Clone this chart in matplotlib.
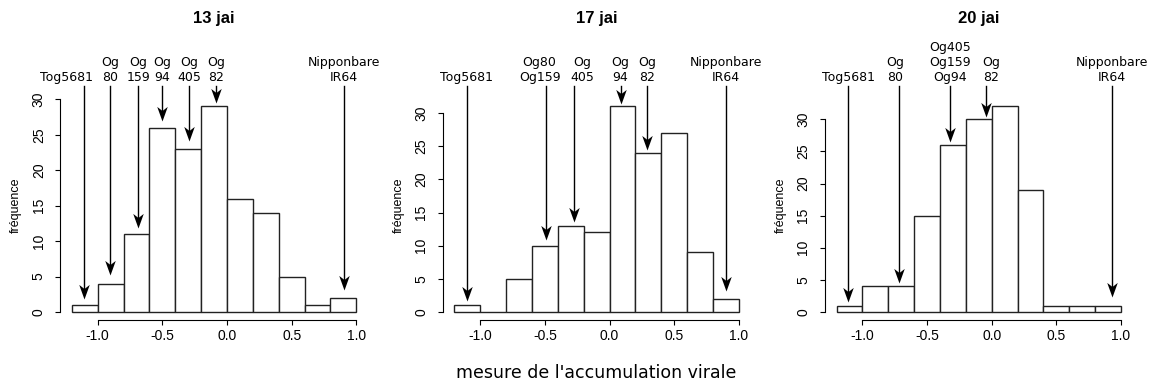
import matplotlib.pyplot as plt
import matplotlib.transforms as mtransforms
from matplotlib.path import Path

# histogram breaks (same for the three dates)
breaks = [-1.2, -1.0, -0.8, -0.6, -0.4, -0.2, 0.0, 0.2, 0.4, 0.6, 0.8, 1.0]
titles = ["13 jai", "17 jai", "20 jai"]

counts_13 = [1, 4, 11, 26, 23, 29, 16, 14, 5, 1, 2]
counts_17 = [1, 0, 5, 10, 13, 12, 31, 24, 27, 9, 2]
counts_20 = [1, 4, 4, 15, 26, 30, 32, 19, 1, 1, 1]

# genotypes pointed at by arrows: label, position on x, arrow tip height
lab_13 = ["Tog5681", "Og\n80", "Og\n159", "Og\n94", "Og\n405", "Og\n82", "Nipponbare\nIR64"]
pos_13 = [-1.106, -0.902, -0.688, -0.5, -0.291, -0.082, 0.903]
tip_13 = [1.8, 5.2, 11.8, 27.0, 24.1, 29.5, 3.1]

lab_17 = ["Tog5681", "Og80\nOg159", "Og\n405", "Og\n94", "Og\n82", "Nipponbare\nIR64"]
pos_17 = [-1.103, -0.494, -0.274, 0.085, 0.292, 0.897]
tip_17 = [1.7, 10.85, 13.6, 31.3, 24.4, 3.2]

lab_20 = ["Tog5681", "Og\n80", "Og405\nOg159\nOg94", "Og\n82", "Nipponbare\nIR64"]
pos_20 = [-1.109, -0.72, -0.325, -0.043, 0.927]
tip_20 = [1.6, 4.5, 26.5, 30.4, 2.4]

# small horizontal shifts of the labels so they don't collide
nudge_13 = [-0.139, 0, 0, 0, 0, 0, 0]
nudge_17 = [0, -0.047, 0.06, 0, 0, 0]
nudge_20 = [0, -0.03, 0, 0.036, 0]

panels = [
    (counts_13, lab_13, pos_13, tip_13, nudge_13),
    (counts_17, lab_17, pos_17, tip_17, nudge_17),
    (counts_20, lab_20, pos_20, tip_20, nudge_20),
]

plt.rcParams['font.family'] = ['Liberation Sans', 'DejaVu Sans']
plt.rcParams['axes.unicode_minus'] = False

# arrow head (tip at origin, pointing down, notched back)
head = Path([(0, 0), (-0.36, 1), (0, 0.72), (0.36, 1), (0, 0)],
            [Path.MOVETO, Path.LINETO, Path.LINETO, Path.LINETO, Path.CLOSEPOLY])

fig = plt.figure(figsize=(11.52, 3.85), dpi=100)
lefts = [0.0525, 0.3846, 0.7163]

for i, (counts, labs, pos, tips, nudge) in enumerate(panels):
    ax = fig.add_axes([lefts[i], 0.1683, 0.2667, 0.5766])
    ymax = max(counts)

    widths = [breaks[k + 1] - breaks[k] for k in range(len(counts))]
    ax.bar(breaks[:-1], counts, width=widths, align='edge', color='white',
           edgecolor='#222222', linewidth=1.0)

    ax.set_xlim(-1.288, 1.088)
    ax.set_ylim(-0.04 * ymax, 1.04 * ymax)

    for s in ['top', 'right']:
        ax.spines[s].set_visible(False)
    ax.spines['left'].set_bounds(0, 30)
    ax.spines['bottom'].set_bounds(-1, 1)
    ax.set_xticks([-1.0, -0.5, 0.0, 0.5, 1.0])
    ax.set_yticks([0, 5, 10, 15, 20, 25, 30])
    ax.tick_params(length=3.6, width=0.8, labelsize=10)
    ax.tick_params(axis='x', pad=3)
    ax.tick_params(axis='y', pad=7)
    for t in ax.get_yticklabels():
        t.set_rotation(90)
        t.set_va('center')

    ax.set_ylabel("fréquence", fontsize=9)
    ax.yaxis.set_label_coords(-0.125, 0.52)

    ax.text(0.5, 1.337, titles[i], transform=ax.transAxes, ha='center',
            va='baseline', fontsize=12, fontweight='bold')

    # arrows and genotype labels
    trans = mtransforms.blended_transform_factory(ax.transData, ax.transAxes)
    top = ymax * 1.1
    for lab, x, tip, dx in zip(labs, pos, tips, nudge):
        ax.plot([x, x], [tip + 1, top], color='black', lw=1.0, clip_on=False)
        ax.plot([x], [tip], marker=head, markersize=21, color='black',
                markeredgewidth=0, clip_on=False)
        ax.text(x + dx, 1.0775, lab, transform=trans, ha='center',
                va='baseline', multialignment='center', fontsize=9,
                family='DejaVu Sans', linespacing=1.2)

fig.text(596 / 1152, 1 - 372.7 / 385, "mesure de l'accumulation virale",
         ha='center', va='center', fontsize=12.5, family='DejaVu Sans')

fig.savefig("out.png", dpi=100)
plt.close()
